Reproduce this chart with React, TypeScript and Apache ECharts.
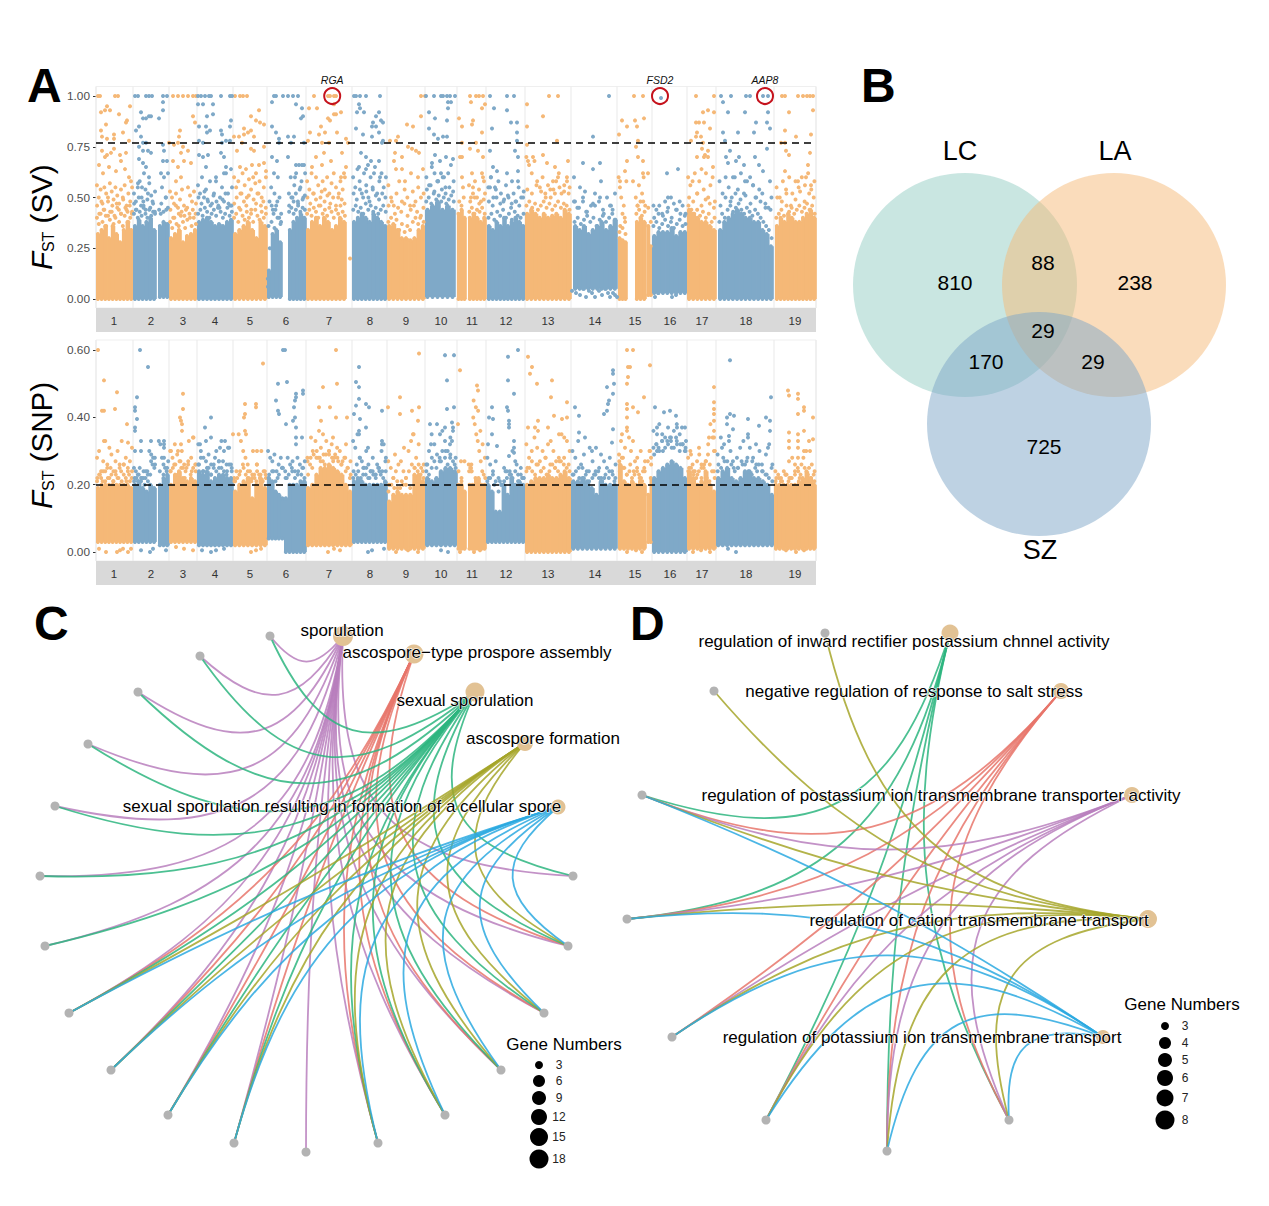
import React, { useEffect, useRef } from "react";
import * as echarts from "echarts";

const FONT = "Liberation Sans";
const ORANGE = "#F5B877";
const BLUE = "#7FA9C8";

const chromLabels = ["1","2","3","4","5","6","7","8","9","10","11","12","13","14","15","16","17","18","19"];
const chromMids = [18,55,87,119,154,190,233,274,310,345,376,410,452,499,539,574,606,650,699];
const chromBounds = [0,37,73,101,137,171,210,256,291,329,361,390,429,475,521,556,591,620,678,720];

// [chromosome, from, to, low%, solid column tops%, upper dots%, middle dots%]
type Seg = [number, number, number, number, number[], number[], number[]];
const svSegments: Seg[] = [
  [1,0,37,0,[32,34,36,30,36,32,28,34,38,34],[56,50,54,47,55,52,48,57,53,49,55,51,47,54,50,56,46,52,48,55],[46,42,48,44,41,50,43,46,41,47,44,42,49,45,43,46,42]],
  [2,37,60,0,[36,39,36,38,40,34],[52,48,55,58,50,46,54,49,57,51,47,53],[47,44,50,46,48,44,52,45,48,43]],
  [2,62,73,1,[36,38,37],[44,47,43,50,45],[42,44]],
  [3,73,101,0,[30,32,34,28,31,32,34],[53,50,47,52,45,49,54,46,44,55,51,48,53,47],[44,40,46,42,43,41,45,40,44,42]],
  [4,101,137,0,[38,39,40,38,36,37,36,38,39],[56,52,60,50,54,48,58,47,52,60,45,50,55,48,62,52,46,55],[50,47,53,49,46,51,48,45,49,52,47,46]],
  [5,137,171,0,[32,34,36,38,34,30,38,36],[60,55,58,52,62,56,50,59,54,60,57,52,58,50,55,60],[47,50,45,52,48,46,51,44,49,47,52,46,48,45]],
  [6,171,186,1,[14,32,34,28],[10,48,55,44,52,46,60,50,42],[6,25,46,42,44,48,40,38]],
  [6,192,210,0,[34,38,40,42,40],[52,60,50,56,62,48,54,58,50,62],[46,50,48,52,47,55,49,51]],
  [7,210,250,0,[34,38,40,36,40,38,34,36,40,38],[58,54,62,52,60,56,50,58,54,60,52,57,62,55,50,58,54,60],[50,47,52,49,46,53,48,51,47,50,46,52,49,47]],
  [8,256,291,0,[38,40,42,40,38,42,40,38,36],[60,55,64,58,52,62,56,50,60,54,65,52,58,62,55,60],[52,49,54,50,53,48,55,51,49,52,50]],
  [9,291,329,0,[36,37,34,30,30,29,30,34,36],[56,50,46,52,58,48,54,50,46,53,48,55,50,52],[46,48,42,45,43,47,41,44,46,43,40,45]],
  [10,329,359,1,[44,46,48,44,46,44],[60,56,65,62,58,68,60,55,62,66,58],[54,56,53,58,54,52,55,53]],
  [11,361,370,0,[42,44,40],[48,50],[46]],
  [11,372,390,0,[40,42,40,38,40],[56,50,52,58,50,54,48,60,52],[48,50,47,49]],
  [12,391,429,0,[36,34,38,36,40,36,38,40,38,36],[55,60,50,54,58,52,48,56,50,45,52,48,55,50,53],[48,46,50,47,49,51,47,48,46,50]],
  [13,429,475,0,[42,44,42,40,42,40,41,42,40,44,42],[70,66,62,68,58,55,60,52,56,50,54,58,62,52,56,60,55],[54,52,56,53,50,54,52,55,53,52]],
  [14,477,521,5,[36,34,36,32,34,36,38,34,36,39],[48,45,50,43,46,52,48,44,50,46,52],[45,43,46,42,44]],
  [15,522,531,0,[30,29,28],[60,55,50,42,46,38,58],[36,40]],
  [15,539,550,0,[38,40,38],[50,46,56,48,52,60,46],[46,48]],
  [15,551,556,2,[36,26],[45,38],[]],
  [16,556,591,3,[31,33,33,33,35,31,33,33],[46,44,46,42,48,45,50,47,44,48,46,42],[40,42,41,43,40,44,42,41]],
  [17,591,620,0,[44,42,40,38,38,36,34],[60,56,58,62,52,58,64,54,62,50,56,60,48],[50,48,52,46,49,47,45]],
  [18,622,677,0,[34,38,40,42,44,42,40,40,38,38,34,32,26],[58,52,60,55,50,60,54,62,52,58,60,56,50,54,52,47,45,50],[46,50,48,52,49,51,47,50,48,45,44]],
  [19,679,720,0,[36,40,38,42,40,38,38,40,42,44,40],[55,50,58,54,60,52,58,55,60,56,62,54,58],[50,48,52,46,49,53,48,52,50]],
];
// dots right above the solid part: [chromosome, from, to, Fst %]
const svExtra: [number, number, number, number[]][] = [
  [1,0,37,[40,37,42,38,44,36,41,39,43,37,40,45,38,42,36,41,44,38,40,43]],
  [2,37,60,[42,44,40,43,41,45,42,40,44,41,43,42]],
  [3,73,101,[38,35,40,37,36,41,38,35,39,42,36,40,37]],
  [4,101,137,[42,44,41,45,43,40,42,44,41,46,43,40,42,45,41,43]],
  [5,137,171,[40,42,38,44,41,39,43,40,42,38,44,41,39,43,40,42]],
  [6,171,186,[36,38,35,40,37]],
  [6,192,210,[43,45,42,44,46,43,45,44]],
  [7,210,250,[42,44,41,45,43,40,46,42,44,41,45,43,40,44,42,46,43,41]],
  [8,256,291,[44,46,43,45,42,47,44,46,43,45,42,44,46,43]],
  [9,291,329,[38,40,36,39,34,37,33,36,34,38,40,37,41,38]],
  [10,329,359,[48,50,47,52,49,51,48,50,47,49,51,48]],
  [11,372,390,[43,45,42,44,43,45,42]],
  [12,391,429,[40,42,39,43,41,44,40,42,39,43,41,40,42]],
  [13,429,475,[46,48,45,47,44,46,48,45,47,44,46,48,45,47,46,44]],
  [14,477,521,[38,40,37,39,41,38,40,36,39,41,38,40,42,39]],
  [15,522,531,[33,35,32]],
  [15,539,550,[42,44,41,43]],
  [16,556,591,[36,38,35,37,39,36,38,35,37,39,36,37]],
  [17,591,620,[46,44,42,44,41,43,40,42,38,40]],
  [18,622,677,[38,42,40,44,46,43,45,47,44,42,45,43,41,44,42,40,38,36,34,30]],
  [19,679,720,[40,42,44,41,46,43,45,42,44,46,43,45,47,44,46,42]],
];

// sparse points [position, Fst %]
const svOrangePoints = [
  [2,100],[4,100],[19,100],[22,100],[77,100],[82,100],[87,100],[92,100],[97,100],[100,100],[139,100],[144,100],[147,100],[151,100],[218,100],[232,100],[234,100],[238,100],[240,100],[325,100],[329,100],[374,100],[380,100],[383,100],[387,100],[453,100],[462,100],[538,100],[547,100],[600,100],[618,100],[686,100],[689,100],[702,100],[707,100],[711,100],[714,100],[717,100],
  [5,92],[9,93],[11,95],[14,93],[23,91],[31,88],[30,87],[10,86],[34,95],[5,83],[18,81],[27,82],[6,80],[11,79],[18,79],[33,78],[6,73],[9,70],[11,71],[15,72],[18,74],[24,71],[25,68],[30,72],[3,66],[13,65],[29,64],[33,60],[7,62],[20,63],[35,58],
  [84,83],[83,80],[82,77],[78,76],[87,75],[73,77],[97,90],[99,87],[77,68],[92,73],[85,72],[88,68],[82,65],[95,67],[80,58],[85,60],
  [163,93],[155,90],[160,88],[164,87],[148,84],[155,83],[168,86],[138,80],[143,80],[148,81],[152,82],[158,80],[146,77],[155,74],[158,73],[168,75],[141,73],[144,65],[150,64],[156,66],[163,66],[168,67],[170,63],[160,62],
  [213,94],[221,94],[232,89],[238,91],[240,91],[245,92],[225,85],[234,88],[238,96],[214,82],[223,81],[229,82],[241,82],[252,77],[250,79],[212,78],[226,77],[233,77],[220,70],[228,72],[246,72],[216,65],[226,66],[235,68],[250,65],[248,62],[245,60],[254,20],
  [311,86],[317,85],[302,80],[294,78],[300,78],[312,75],[325,90],[299,72],[306,70],[316,74],[320,73],[323,72],[300,64],[306,64],[315,62],[322,60],[327,64],[298,68],[309,58],
  [363,89],[366,85],[366,77],[364,70],[375,97],[389,96],[386,94],[377,88],[376,86],[380,77],[386,82],[374,74],[366,70],[382,73],[387,70],[366,60],[376,62],[386,62],[388,58],[367,55],[377,55],
  [431,96],[431,85],[447,90],[461,78],[431,76],[447,71],[451,67],[437,70],[432,68],[459,65],[472,68],[471,58],[462,60],[457,58],
  [526,88],[531,85],[539,88],[548,89],[541,85],[523,81],[542,78],[540,75],[542,70],[547,68],[531,68],[529,63],[547,62],[552,62],[537,58],[524,58],
  [612,93],[607,92],[618,92],[600,87],[603,87],[608,87],[614,84],[601,82],[595,78],[600,80],[605,80],[607,77],[606,74],[612,73],[609,71],[601,70],[608,70],[612,70],[617,65],
  [693,92],[717,93],[689,83],[700,80],[715,81],[685,77],[689,77],[690,73],[693,71],[714,72],[712,66],[689,63],[702,58],[710,60],[715,56],
];
const svBluePoints = [
  [39,100],[42,100],[50,100],[53,100],[56,100],[67,100],[71,100],[102,100],[105,100],[109,100],[113,100],[115,100],[125,100],[134,100],[136,100],[178,100],[180,100],[187,100],[192,100],[197,100],[202,100],[258,100],[260,100],[264,100],[270,100],[284,100],[330,100],[338,100],[345,100],[347,100],[351,100],[354,100],[359,100],[394,100],[411,100],[418,100],[513,100],[565,99],[625,100],[635,100],[650,100],[654,100],[667,100],[672,100],
  [40,83],[43,85],[45,92],[47,89],[50,89],[53,90],[55,90],[63,89],[67,93],[67,97],[45,80],[47,77],[43,75],[50,77],[47,73],[52,73],[55,72],[67,76],[68,73],[67,68],[71,68],[43,69],[47,67],[50,65],[48,62],[53,60],[65,62],[68,60],[72,62],[42,57],[46,55],[66,55],[70,50],
  [102,96],[107,96],[117,96],[103,85],[110,85],[111,90],[117,91],[111,82],[114,83],[125,83],[126,81],[135,88],[134,85],[103,78],[107,77],[126,77],[130,78],[134,78],[103,71],[107,70],[112,71],[125,72],[128,70],[110,65],[130,65],[120,58],[128,62],[135,64],
  [176,97],[200,96],[206,94],[207,90],[205,89],[176,85],[180,82],[183,79],[192,80],[198,80],[208,77],[195,77],[183,77],[176,70],[181,68],[192,70],[200,66],[203,66],[206,66],[208,66],[178,62],[199,60],
  [263,96],[264,94],[261,92],[268,92],[277,87],[280,90],[283,92],[285,88],[287,87],[260,84],[267,81],[276,85],[280,85],[276,80],[283,82],[287,78],[286,77],[265,72],[270,70],[275,68],[283,68],[263,65],[270,64],[272,66],[278,62],[284,60],
  [333,92],[339,89],[352,97],[355,97],[352,94],[351,88],[333,84],[338,81],[342,79],[347,80],[351,80],[339,71],[350,70],[357,69],[336,67],[345,62],[348,60],[342,58],
  [398,94],[411,93],[415,87],[421,87],[396,84],[421,82],[421,78],[394,73],[419,73],[422,70],[397,65],[401,63],[422,63],[411,62],[395,60],[416,58],[422,58],[394,55],[399,55],
  [497,80],[487,67],[497,64],[504,67],[478,60],[505,58],[484,55],[489,53],[504,50],[478,48],[487,48],[497,47],[514,46],
  [476,4],[480,3],[484,2],[487,5],[490,1],[493,4],[496,3],[499,1],[503,4],[506,2],[509,5],[512,3],[514,1],[517,3],[519,2],[521,1],
  [571,62],[582,64],[572,50],[559,1],[562,3],[576,1],[580,2],
  [627,97],[632,92],[649,92],[672,92],[660,87],[671,87],[674,84],[642,82],[658,82],[627,82],[629,78],[634,73],[671,74],[630,70],[643,70],[659,70],[632,67],[640,68],[648,66],[663,66],[667,63],[674,58],[637,60],[649,58],[657,56],
];

const snpSegments: Seg[] = [
  [1,0,37,3,[19,20,20,20,20,20,20,20,20,19],[28,30,24,27,33,26,31,29,24,27,30,25,33,26,28,24,27,31],[22,23,21,24,22,25,21,23,22,24,26,21,23,22]],
  [2,37,60,3,[20,21,19,18,20,19],[25,24,23,25,22,24,22,24,30,29,28,26],[22,21,22,20,23,27,25]],
  [2,62,73,2,[20,22,23],[33,32,28,26,25,24,27],[24,23,25]],
  [3,73,101,3,[20,23,24,22,21,22,21],[30,28,32,29,27,30,26,25,33,28,34,26],[24,26,23,25,22,27,24,26]],
  [4,101,137,2,[24,23,24,21,22,23,23,22,22],[32,30,28,33,29,26,25,30,27,33,30,26,31,24],[26,24,25,23,28,25,27,24,26]],
  [5,137,171,2,[18,20,21,22,16,20,22,19],[22,24,35,33,30,28,26,24,23,22,26,23,30,24,22],[21,23,25,24,22,21,23,24]],
  [6,171,188,4,[22,21,18,17,16],[30,28,27,29,24,26,28,25],[23,24,22,25]],
  [6,188,210,0,[16,20,20,20,21,21],[24,28,26,27,24,28,26,25,27],[22,24,23,25]],
  [7,210,256,2,[19,20,23,25,25,26,25,24,23,20,18],[28,26,30,33,28,31,29,33,30,32,28,31,30,27,28,25,23],[23,25,28,27,26,29,27,28,26,24,22]],
  [8,256,291,3,[21,22,21,20,20,20,20,20,21],[33,31,35,28,27,25,30,26,24,28,23,26,24,30,32,28],[24,26,28,23,25,22,24,23,25,24,27]],
  [9,291,329,1,[15,17,18,17,17,17,23,23,21],[27,25,22,24,26,27,24,22,30,33,35,28,32,25,26],[20,22,19,21,20,19,25,26,24]],
  [10,329,361,2,[22,21,22,24,25,25,24],[26,30,35,32,38,28,36,33,30,34,37,28],[26,28,25,27,30,28,26]],
  [11,361,370,1,[20,20,18],[24,22,27],[21]],
  [11,372,390,1,[20,20,22,22,20,20],[26,25,24,40,38,35,33,30,27,24,23,22],[24,26,45,43,42,36,32,28]],
  [12,390,429,3,[20,18,12,12,20,17,22,20,21,20],[28,26,24,27,22,20,25,22,24,30,27,23,25,22],[22,20,21,24,23,26,22]],
  [13,429,475,0,[20,21,22,22,22,23,22,22,23,24,22],[32,28,30,34,31,27,30,28,32,33,30,27,28,35,34,33,30],[25,27,26,24,28,26,25,27,28,26]],
  [14,475,521,1,[21,21,22,21,19,17,21,20,20,20],[30,28,33,26,29,24,31,27,23,24,22,27,25,28,23,26],[23,25,22,24,23,25,22,24,21]],
  [15,522,550,1,[26,21,20,21,20,21,20],[29,33,28,31,36,34,30,33,27,24,23,22,24,27],[24,25,23,26,24,28,30,25]],
  [15,551,556,3,[17,22],[27,30,26],[]],
  [16,556,591,0,[22,24,25,26,27,26,25,22],[36,32,38,35,34,37,33,36,38,35,32,30],[29,31,30,33,31,34,32,30]],
  [17,591,620,1,[24,22,20,21,24,20,18],[28,30,26,24,27,29,26,25,27,32,38,34,30],[25,24,23,22,27,26,24]],
  [18,620,678,2,[22,24,25,22,21,22,24,24,22,22,21,20,17],[29,34,32,27,30,25,28,31,33,27,31,28,26,30,24,29,32,26],[26,28,24,27,25,26,28,27,24,26,23,25]],
  [19,678,720,1,[20,20,20,20,20,20,21,22,24,22,20],[24,23,22,24,23,22,28,26,25,23,28,30,33,26,24],[22,21,23,22,24,22,21,25,23]],
];
const snpExtra: [number, number, number, number[]][] = [
  [1,0,37,[21,23,22,24,21,25,22,23,21,24,22,26,21,23,22,25,21,24]],
  [2,37,60,[21,22,23,21,22,24,21,23,26,28]],
  [3,73,101,[24,25,26,23,27,25,24,26,23,25,24]],
  [4,101,137,[26,28,24,27,25,23,26,24,27,25,24,23,26,25]],
  [5,137,171,[21,22,24,26,23,22,21,23,24,22,21,23]],
  [6,171,188,[22,24,21,23,25]],
  [6,188,210,[22,23,25,22,24,23,22]],
  [7,210,256,[27,28,29,30,28,27,29,30,28,29,27,26,28,25,27]],
  [8,256,291,[22,23,24,22,25,23,22,24,23,22,25,23,22,24]],
  [9,291,329,[18,20,19,21,19,20,22,24,26,25,24,23,22]],
  [10,329,361,[24,23,25,27,29,27,30,28,26,29,27,25]],
  [12,390,429,[21,22,23,21,18,20,21,24,23,22,24,21,23,22]],
  [13,429,475,[24,25,24,23,26,24,25,23,24,26,25,24,27,26,25,24]],
  [14,475,521,[23,24,22,25,23,21,22,24,22,21,23,22,24,22]],
  [15,522,550,[27,28,25,23,24,22,23,25,22,21,24]],
  [16,556,591,[31,32,30,33,31,32,34,31,33,30,32,31]],
  [17,591,620,[24,25,23,22,24,25,26,22,21,24,22]],
  [18,620,678,[24,25,27,23,26,24,25,27,26,24,23,25,26,24,23,22,21]],
  [19,678,720,[21,22,21,23,21,22,23,24,26,25,23,22,21]],
];

const snpOrangePoints = [
  [2,60],[8,51],[6,42],[8,42],[21,47.5],[19,42.5],[31,38],[8,33],[32,32.5],[10,0],[21,0],[24,0.5],[27,1],[32,0],[35,1],[3,1],
  [87,47],[87,42.5],[84,40],[85,39],[86,38],[86,36],[85,32],[97,34],[82,30],[75,30],[88,1],[97,0.5],[80,1.5],
  [137,35],[149,44],[160,44],[160,43],[167,56],[148,40],[149,41],[149,36],[150,35],[161,30],[157,30],[161,26],[155,0],[160,0.5],[165,1],
  [240,60],[227,49],[241,50],[223,43],[234,43],[225,39],[240,40],[251,40],[223,36],[227,35],[215,34],[237,34],[250,32],[232,0],[238,1],[244,0.5],
  [323,59],[304,46],[292,43],[304,41],[316,42],[323,43],[322,39],[317,35],[308,31],[299,29],[300,0],[312,0.5],[322,0],
  [364,54],[362,38],[381,49.5],[382,48],[365,27],[375,25],[375,24],[364,0],[378,0],[384,0.5],
  [432,58],[436,55],[434,53],[441,50],[456,51],[455,46],[471,44.5],[458,40.5],[471,40],[466,39.5],[442,39],[432,37],[439,37],[442,36],[452,37],[463,35],
  [531,60],[537,60],[532,55],[534,55],[554,55.5],[532,52],[531,50],[548,46],[531,44],[531,42.5],[537,43],[542,41.5],[531,40],[531,37],[526,35],[554,30],[555,28],[531,0],[540,0.5],[546,0],
  [618,49],[618,44.5],[618,42.5],[618,41],[618,39],[618,36],[618,34],[613,34],[603,31],[618,30],[595,29],[612,29],[597,0],[605,0.5],[614,0],
  [692,48],[693,46.5],[702,47],[702,45.5],[708,43],[708,42],[702,41],[717,40],[693,35.5],[708,36],[702,35],[717,33.5],[693,33],[693,31],[702,33],[702,31],[708,30],[714,30],[702,28],[693,27],[690,0.5],[700,0],[708,0.5],
];
const snpBluePoints = [
  [44,60],[52,55],[41,46],[39,43],[39,42],[41,39.5],[39,37],[39,36],[45,33],[55,33],[39,30],[45,30],[68,33],[68,32],[68,31],[68,28],[45,0.5],[54,0],[57,1],[70,0.5],
  [115,40],[109,37],[115,34],[104,32],[129,33],[124,31],[132,31],[106,0.5],[115,0],[120,0.5],[128,1],
  [187,60],[189,60],[191,50.5],[182,50],[180,45],[200,47],[200,46],[207,48],[207,47],[199,45],[198,43],[182,42],[183,41],[199,40],[190,38],[197,39],[200,37],[200,34],[206,34],[200,32],
  [263,55],[260,50.5],[263,49],[263,45.5],[260,43.5],[270,44],[273,43],[286,42],[258,41],[264,39.5],[270,37],[263,36],[263,35],[286,33],[286,32],[272,31],[272,0],[276,0.5],[288,1],
  [334,38],[335,32],[349,58.5],[358,58.5],[351,51],[351,42.5],[358,43],[356,38.5],[349,37],[344,35],[357,36],[356,33],[354,32],[345,0.5],[352,0],
  [422,60],[412,58],[412,51],[418,47],[396,43],[411,43],[412,42],[393,40],[397,39.5],[413,39],[413,38],[413,37],[396,35],[418,33],[392,32],[401,31.5],[418,31],[418,29.5],[413,28.5],
  [517,54],[517,53],[518,50],[511,49],[517,47],[513,45],[512,44],[511,42],[508,41],[479,43],[483,40.5],[517,36.5],[483,35.5],[489,34],[516,32.5],[500,31],[496,30],[505,29],
  [559,43],[574,42],[568,41.5],[580,40.5],[561,37],[581,37],[586,37],[589,37],[561,35],[566,33],[574,34],[590,33],[581,32],[561,30],
  [634,57],[675,46],[634,41],[638,40.5],[652,39.5],[670,40],[674,39],[663,37.5],[631,40],[631,38],[674,36],[637,36.5],[633,34.5],[652,35],[652,34],[633,33],[660,32],[672,31],[626,31],[632,1],[640,0],
];

const geneMarks: [string, number, number][] = [["RGA",236.2,1.0],["FSD2",564,1.0],["AAP8",669,1.0]];
const svThreshold = 0.768;
const snpThreshold = 0.199;

// Panel B
const vennSets: [string, number, number, string][] = [
  ["LC",965,285,"rgba(148,205,195,0.5)"],
  ["LA",1114,285,"rgba(245,185,120,0.5)"],
  ["SZ",1039,424,"rgba(125,165,200,0.5)"],
];
const vennSetLabels: [string, number, number][] = [["LC",960,151],["LA",1115,151],["SZ",1040,550]];
const vennCounts: [string, number, number][] = [["810",955,282],["88",1043,262],["238",1135,282],["29",1043,330],["170",986,361],["29",1093,361],["725",1044,446]];

// Panel C
const cCenter = [306,885];
const cLeaves = [[270,636],[200,656],[138,692],[88,744],[55,806],[40,876],[45,946],[69,1013],[111,1070],[168,1115],[234,1143],[306,1152],[378,1143],[445,1115],[501,1070],[544,1013],[568,946],[573,876]];
const cFive = [7,8,9,10,12,13,14,15,16];
const cTerms: [string, number, number, number, number, number, string, number[]][] = [
  ["sporulation",343,636,20,342,630,"#B97FBD",[0,1,2,3,4,5,6,7,8,9,10,11,12,13,14,15,16,17]],
  ["ascospore\u2212type prospore assembly",414,654,19,477,652,"#E8766B",cFive],
  ["sexual sporulation",475,692,19,465,700,"#2DB57F",[0,1,2,3,4,5,6,7,8,9,10,12,13,14,15,16,17]],
  ["ascospore formation",525,743,16,543,738,"#A6A62A",cFive],
  ["sexual sporulation resulting in formation of a cellular spore",558,807,15,342,806,"#2BA9E0",cFive],
];
const cLegendTitle: [string, number, number] = ["Gene Numbers",564,1044];
const cLegend: [string, number, number][] = [["3",1065,8],["6",1081,12],["9",1098,14],["12",1117,16],["15",1137,18],["18",1159,19]];

// Panel D
const dCenter = [887,892];
const dLeaves = [[825,633],[714,691],[642,795],[627,919],[672,1037],[766,1120],[887,1151],[1009,1120]];
const dTerms: [string, number, number, number, number, number, string, number[]][] = [
  ["regulation of inward rectifier postassium chnnel activity",950,633,17,904,641,"#2DB57F",[2,3,5,6,7]],
  ["negative regulation of response to salt stress",1061,691,16,914,691,"#E8766B",[2,3,4,5,6,7]],
  ["regulation of postassium ion transmembrane transporter activity",1132,795,16,941,795,"#B97FBD",[2,3,4,5,6,7]],
  ["regulation of cation transmembrane transport",1148,919,18,979,920,"#A6A62A",[0,1,2,3,4,5,6,7]],
  ["regulation of potassium ion transmembrane transport",1103,1037,14,922,1037,"#2BA9E0",[2,3,4,5,6,7]],
];
const dLegendTitle: [string, number, number] = ["Gene Numbers",1182,1004];
const dLegend: [string, number, number][] = [["3",1026,8],["4",1043,12],["5",1060,14],["6",1078,16],["7",1098,17],["8",1120,19]];

const panelLetters: [string, number, number][] = [["A",27,85],["B",861,85],["C",34,623],["D",630,623]];

function buildManhattan(segments: Seg[], extra: [number, number, number, number[]][]) {
  const columns: number[][] = [];
  const orange: number[][] = [];
  const blue: number[][] = [];
  segments.forEach(([chr, from, to, low, core, a, b]) => {
    const target = chr % 2 === 1 ? orange : blue;
    const cw = (to - from) / core.length;
    core.forEach((t, i) => {
      columns.push([from + i * cw, from + (i + 1) * cw, low / 100, t / 100, chr]);
      target.push([from + (i + 0.5) * cw, t / 100]);
      target.push([from + (i + 0.5) * cw, low / 100]);
    });
    [a, b].forEach((list) => {
      const step = (to - from) / Math.max(list.length, 1);
      list.forEach((v, i) => target.push([from + (i + 0.5) * step, v / 100]));
    });
  });
  extra.forEach(([chr, from, to, list]) => {
    const target = chr % 2 === 1 ? orange : blue;
    const step = (to - from) / list.length;
    list.forEach((v, i) => target.push([from + (i + 0.5) * step, v / 100]));
  });
  return { columns, orange, blue };
}

const toFst = (pts: number[][]) => pts.map(([x, y]) => [x, y / 100]);

function panelSeries(segments: Seg[], extra: [number, number, number, number[]][], orangePts: number[][], bluePts: number[][], axis: number, threshold: number, yMin: number, yMax: number, withGenes: boolean) {
  const m = buildManhattan(segments, extra);
  const base = { xAxisIndex: axis, yAxisIndex: axis };
  const series: any[] = [
    {
      ...base, type: "custom", name: "boundaries", z: 1, silent: true, data: chromBounds.map((b) => [b]),
      encode: { x: 0 },
      renderItem: (_: any, api: any) => {
        const p = api.coord([api.value(0), yMin]);
        const q = api.coord([api.value(0), yMax]);
        return { type: "line", shape: { x1: p[0], y1: p[1], x2: q[0], y2: q[1] }, style: { stroke: "#E9E9E9", lineWidth: 1 } };
      },
    },
    {
      ...base, type: "custom", name: "dense", z: 2, silent: true, data: m.columns,
      encode: { x: [0, 1], y: [2, 3] },
      renderItem: (_: any, api: any) => {
        const p = api.coord([api.value(0), api.value(3)]);
        const q = api.coord([api.value(1), api.value(2)]);
        return { type: "rect", shape: { x: p[0], y: p[1], width: q[0] - p[0] + 0.8, height: q[1] - p[1] }, style: { fill: api.value(4) % 2 === 1 ? ORANGE : BLUE } };
      },
    },
    { ...base, type: "scatter", name: "odd chromosomes", z: 3, silent: true, symbolSize: 4, itemStyle: { color: ORANGE, opacity: 1 }, data: [...m.orange, ...toFst(orangePts)] },
    { ...base, type: "scatter", name: "even chromosomes", z: 3, silent: true, symbolSize: 4, itemStyle: { color: BLUE, opacity: 1 }, data: [...m.blue, ...toFst(bluePts)] },
    {
      ...base, type: "scatter", name: "marks", z: 5, silent: true, clip: false,
      symbolSize: 16,
      itemStyle: { color: "rgba(0,0,0,0)", borderColor: "#C5121C", borderWidth: 2, opacity: 1 },
      label: { show: true, position: "top", distance: 2, formatter: (p: any) => p.data[2], fontStyle: "italic", fontFamily: FONT, fontSize: 10.5, color: "#111" },
      data: withGenes ? geneMarks.map(([n, x, y]) => [x, y, n]) : [],
      markLine: {
        silent: true, symbol: "none", label: { show: false },
        lineStyle: { color: "#000", type: [7, 5], width: 1.5 },
        data: [{ yAxis: threshold }],
      },
    },
  ];
  return series;
}

function networkSeries(terms: typeof cTerms, leaves: number[][], center: number[], ref: number) {
  const out: any[] = [];
  const t = 0.75;
  terms.forEach(([name, tx, ty, , , , color, links]) => {
    out.push({
      type: "custom", name, xAxisIndex: 4, yAxisIndex: 4, z: 6, silent: true,
      encode: { x: [0, 2], y: [1, 3] },
      data: links.map((i) => [leaves[i][0], leaves[i][1], tx, ty]),
      renderItem: (_: any, api: any) => {
        const a = api.coord([api.value(0), api.value(1)]);
        const b = api.coord([api.value(2), api.value(3)]);
        const c = api.coord(center);
        const mx = (a[0] + b[0]) / 2, my = (a[1] + b[1]) / 2;
        const k = Math.min(1, Math.hypot(a[0] - b[0], a[1] - b[1]) / ref);
        const cx = mx + k * (c[0] - mx), cy = my + k * (c[1] - my);
        return {
          type: "bezierCurve",
          shape: {
            x1: a[0], y1: a[1], x2: b[0], y2: b[1],
            cpx1: a[0] + t * (cx - a[0]), cpy1: a[1] + t * (cy - a[1]),
            cpx2: b[0] + t * (cx - b[0]), cpy2: b[1] + t * (cy - b[1]),
          },
          style: { stroke: color, fill: "none", lineWidth: 1.8, opacity: 0.85 },
        };
      },
    });
  });
  out.push({
    type: "scatter", name: "genes", xAxisIndex: 4, yAxisIndex: 4, z: 7, silent: true,
    symbolSize: 9, itemStyle: { color: "#B3B3B3", opacity: 1 }, data: leaves,
  });
  out.push({
    type: "scatter", name: "terms", xAxisIndex: 4, yAxisIndex: 4, z: 7, silent: true,
    symbolSize: (v: number[]) => v[2], itemStyle: { color: "#E2C294", opacity: 1 },
    data: terms.map((x) => [x[1], x[2], x[3]]),
  });
  out.push(textSeries(terms.map((x) => [x[0], x[4], x[5]]), 17, { textBorderColor: "#fff", textBorderWidth: 1.2 }));
  return out;
}

function textSeries(rows: any[], size: number, extra: any = {}) {
  return {
    type: "scatter", name: "text", xAxisIndex: 4, yAxisIndex: 4, z: 9, silent: true, symbolSize: 0,
    itemStyle: { opacity: 1 },
    label: { show: true, position: "inside", align: "center", verticalAlign: "middle", formatter: (p: any) => p.data[2], fontFamily: FONT, fontSize: size, color: "#000", ...extra },
    data: rows.map((r) => [r[1], r[2], r[0]]),
  };
}

function legendSeries(rows: [string, number, number][], cx: number, lx: number) {
  return [
    {
      type: "scatter", name: "Gene Numbers", xAxisIndex: 4, yAxisIndex: 4, z: 8, silent: true,
      symbolSize: (v: number[]) => v[2], itemStyle: { color: "#000", opacity: 1 },
      data: rows.map((r) => [cx, r[1], r[2]]),
    },
    textSeries(rows.map((r) => [r[0], lx, r[1]]), 12, { color: "#222" }),
  ];
}

function yTitle(label: string, padding: number[]) {
  return {
    name: `{f|F}{s|ST}{n| (${label})}`,
    nameLocation: "middle", nameRotate: 90, nameGap: 37,
    nameTextStyle: {
      padding,
      rich: {
        f: { fontFamily: FONT, fontStyle: "italic", fontSize: 29.5, color: "#000", verticalAlign: "middle" },
        s: { fontFamily: FONT, fontSize: 16, color: "#000", verticalAlign: "bottom", padding: [9, 0, 0, 0] },
        n: { fontFamily: FONT, fontSize: 29.5, color: "#000", verticalAlign: "middle" },
      },
    },
  };
}

function fstAxis(gridIndex: number, min: number, max: number, ticks: number[], label: string, padding: number[]) {
  return {
    type: "value", gridIndex, min, max, scale: false, splitLine: { show: false },
    axisLine: { show: false },
    axisTick: { show: true, length: 3, customValues: ticks, lineStyle: { color: "#333" } },
    axisLabel: { customValues: ticks, margin: 6, formatter: (v: number) => v.toFixed(2), fontFamily: FONT, fontSize: 11.8, color: "#4D4D4D" },
    ...yTitle(label, padding),
  };
}

function chromAxis(gridIndex: number) {
  return {
    type: "value", gridIndex, min: 0, max: 720, splitLine: { show: false },
    axisLine: { show: false }, axisTick: { show: false },
    axisLabel: {
      customValues: chromMids, margin: 7, fontFamily: FONT, fontSize: 11.5, color: "#333",
      formatter: (v: number) => chromLabels[chromMids.indexOf(v)],
    },
  };
}

const hiddenX = (g: number, max = 720) => ({ type: "value", gridIndex: g, min: 0, max, show: false, splitLine: { show: false } });
const hiddenY = (g: number, max = 1, inverse = false) => ({ type: "value", gridIndex: g, min: 0, max, inverse, show: false, splitLine: { show: false } });

export default function App() {
  const ref = useRef<HTMLDivElement>(null);
  useEffect(() => {
    if (!ref.current) return;
    const chart = echarts.init(ref.current, undefined, { renderer: "svg" });
    const svMin = -0.0443, svMax = 1.047, snpMin = -0.0267, snpMax = 0.63;
    const border = { show: true, borderColor: "#EFEFEF", borderWidth: 1, backgroundColor: "#fff" };
    chart.setOption({
      animation: false,
      backgroundColor: "#fff",
      grid: [
        { left: 96, top: 86.5, width: 720, height: 221.5, ...border },
        { left: 96, top: 308, width: 720, height: 24, show: true, backgroundColor: "#D9D9D9", borderWidth: 0 },
        { left: 96, top: 340, width: 720, height: 221, ...border },
        { left: 96, top: 561, width: 720, height: 24, show: true, backgroundColor: "#D9D9D9", borderWidth: 0 },
        { left: 0, top: 0, width: 1269, height: 1206 },
      ],
      xAxis: [chromAxis(0), hiddenX(1), chromAxis(2), hiddenX(3), hiddenX(4, 1269)],
      yAxis: [
        fstAxis(0, svMin, svMax, [0, 0.25, 0.5, 0.75, 1], "SV", [0, 40, 0, 0]),
        hiddenY(1),
        fstAxis(2, snpMin, snpMax, [0, 0.2, 0.4, 0.6], "SNP", [0, 0, 0, 10]),
        hiddenY(3),
        hiddenY(4, 1206, true),
      ],
      series: [
        ...panelSeries(svSegments, svExtra, svOrangePoints, svBluePoints, 0, svThreshold, svMin, svMax, true),
        ...panelSeries(snpSegments, snpExtra, snpOrangePoints, snpBluePoints, 2, snpThreshold, snpMin, snpMax, false),
        {
          type: "scatter", name: "venn", xAxisIndex: 4, yAxisIndex: 4, z: 4, silent: true, symbolSize: 224,
          data: vennSets.map(([n, x, y, c]) => ({ name: n, value: [x, y], itemStyle: { color: c, opacity: 1 } })),
        },
        textSeries(vennSetLabels, 27),
        textSeries(vennCounts, 21),
        ...networkSeries(cTerms, cLeaves, cCenter, 400),
        ...networkSeries(dTerms, dLeaves, dCenter, 400),
        textSeries([cLegendTitle, dLegendTitle], 17),
        ...legendSeries(cLegend, 539, 559),
        ...legendSeries(dLegend, 1165, 1185),
      ],
      graphic: panelLetters.map(([t, x, y]) => ({
        type: "text", x, y, z: 20,
        style: { text: t, font: `bold 48px "${FONT}"`, fill: "#000", textAlign: "left", textVerticalAlign: "middle" },
      })),
    });
    return () => chart.dispose();
  }, []);
  return <div ref={ref} style={{ position: "absolute", left: 0, top: 0, width: 1269, height: 1206 }} />;
}
